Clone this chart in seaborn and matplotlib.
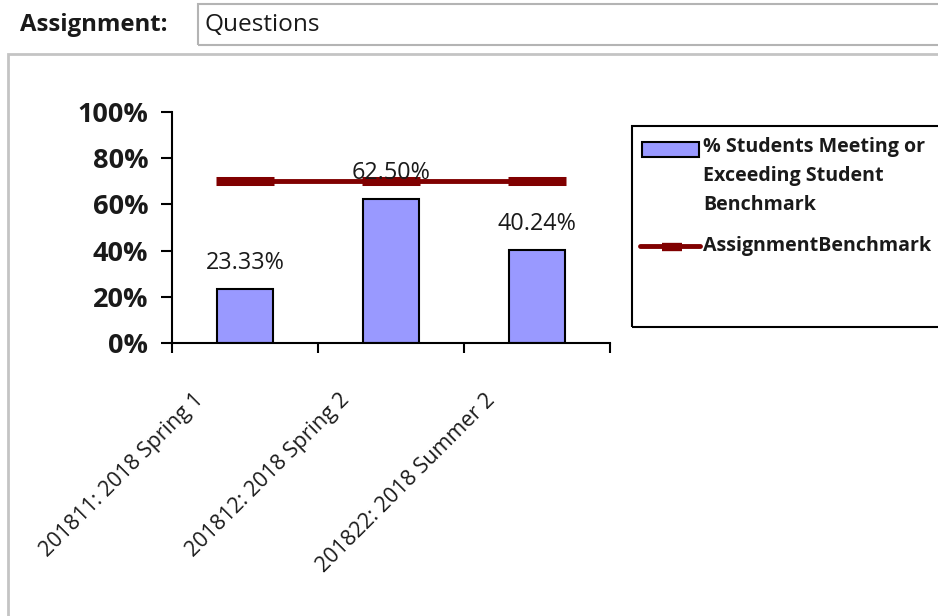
import matplotlib.pyplot as plt
import matplotlib.transforms as mtransforms
from matplotlib.lines import Line2D
from matplotlib.patches import Rectangle
from matplotlib.ticker import PercentFormatter
import seaborn as sns


terms = ["201811: 2018 Spring 1", "201812: 2018 Spring 2", "201822: 2018 Summer 2"]
pct_meeting = [0.2333, 0.6250, 0.4024]
assignment_benchmark = [0.70, 0.70, 0.70]

series_names = ["% Students Meeting or\nExceeding Student\nBenchmark", "AssignmentBenchmark"]
assignment_name = "Questions"

BAR_COLOR = "#9999FF"
LINE_COLOR = "#800000"
TEXT_COLOR = "#1a1a1a"
W, H = 938, 616


def fx(px):
    return px / W


def fy(py):
    return 1 - py / H


sns.set_theme(style="white")
plt.rcParams["font.family"] = ["Open Sans", "DejaVu Sans"]

fig = plt.figure(figsize=(W / 100, H / 100), dpi=100)
fig.patch.set_facecolor("white")

# header and surrounding panel
fig.text(fx(20), fy(25), "Assignment:", fontsize=17.2, fontweight="bold", va="center", color=TEXT_COLOR)
fig.add_artist(Rectangle((fx(198), fy(45)), 0.3 + fx(760), 41 / H, transform=fig.transFigure,
                         fill=False, edgecolor="#b4b4b4", lw=1.5))
fig.text(fx(204), fy(25), assignment_name, fontsize=17.6, va="center", color=TEXT_COLOR)
fig.add_artist(Rectangle((fx(8), -0.1), 1.0, fy(54) + 0.1, transform=fig.transFigure,
                         fill=False, edgecolor="#c4c4c4", lw=2))

ax = fig.add_axes([fx(172), fy(343), 438 / W, 231 / H])
ax.set_facecolor("none")

sns.barplot(x=terms, y=pct_meeting, color=BAR_COLOR, saturation=1, width=0.39,
            edgecolor="black", linewidth=1.5, ax=ax)
sns.pointplot(x=terms, y=assignment_benchmark, color=LINE_COLOR, marker="_",
              markersize=42, markeredgewidth=6.5, linewidth=3.5, ax=ax)

ax.bar_label(ax.containers[0], labels=[f"{v:.2%}" for v in pct_meeting],
             padding=10, fontsize=16.8, color=TEXT_COLOR, zorder=5)

ax.set_xlim(-0.5, 2.5)
ax.set_ylim(0, 1)
ax.set_xlabel("")
ax.set_ylabel("")
ax.yaxis.set_major_formatter(PercentFormatter(1.0, decimals=0))
ax.set_yticks([0, 0.2, 0.4, 0.6, 0.8, 1.0])
ax.tick_params(axis="y", left=True, length=8, width=1.5, color="black", pad=9,
               labelsize=19.5, labelcolor=TEXT_COLOR)
for lab in ax.get_yticklabels():
    lab.set_fontweight("bold")

ax.set_xticks(range(len(terms)))
ax.set_xticklabels(terms)
ax.set_xticks([-0.5, 0.5, 1.5, 2.5], minor=True)
ax.tick_params(axis="x", which="major", bottom=False, length=0, pad=0, labelsize=15.5,
               labelcolor=TEXT_COLOR)
ax.tick_params(axis="x", which="minor", bottom=True, length=7, width=1.5, color="black")
offset = mtransforms.ScaledTranslation(-0.45, -0.54, fig.dpi_scale_trans)
for lab in ax.get_xticklabels():
    lab.set_rotation(45)
    lab.set_ha("right")
    lab.set_va("center")
    lab.set_rotation_mode("anchor")
    lab.set_transform(lab.get_transform() + offset)

sns.despine(ax=ax)
for side in ["left", "bottom"]:
    ax.spines[side].set_color("black")
    ax.spines[side].set_linewidth(1.5)

# legend box, drawn by hand so the swatch sits on the first label line
fig.add_artist(Rectangle((fx(632), fy(327)), 0.4, 201 / H, transform=fig.transFigure,
                         fill=False, edgecolor="black", lw=1.5))
fig.add_artist(Rectangle((fx(642), fy(157)), 57 / W, 15 / H, transform=fig.transFigure,
                         facecolor=BAR_COLOR, edgecolor="black", lw=1.5))
fig.add_artist(Line2D([fx(640), fx(700)], [fy(246), fy(246)], transform=fig.transFigure,
                      color=LINE_COLOR, lw=3.5))
fig.add_artist(Line2D([fx(672)], [fy(247)], transform=fig.transFigure, color=LINE_COLOR,
                      marker="_", markersize=15, markeredgewidth=6))
fig.text(fx(703), fy(137), series_names[0], fontsize=14.1, fontweight="bold", va="top",
         linespacing=1.6, color=TEXT_COLOR)
fig.text(fx(703), fy(246), series_names[1], fontsize=14.1, fontweight="bold", va="center",
         color=TEXT_COLOR)

fig.savefig("out.png", dpi=100)
